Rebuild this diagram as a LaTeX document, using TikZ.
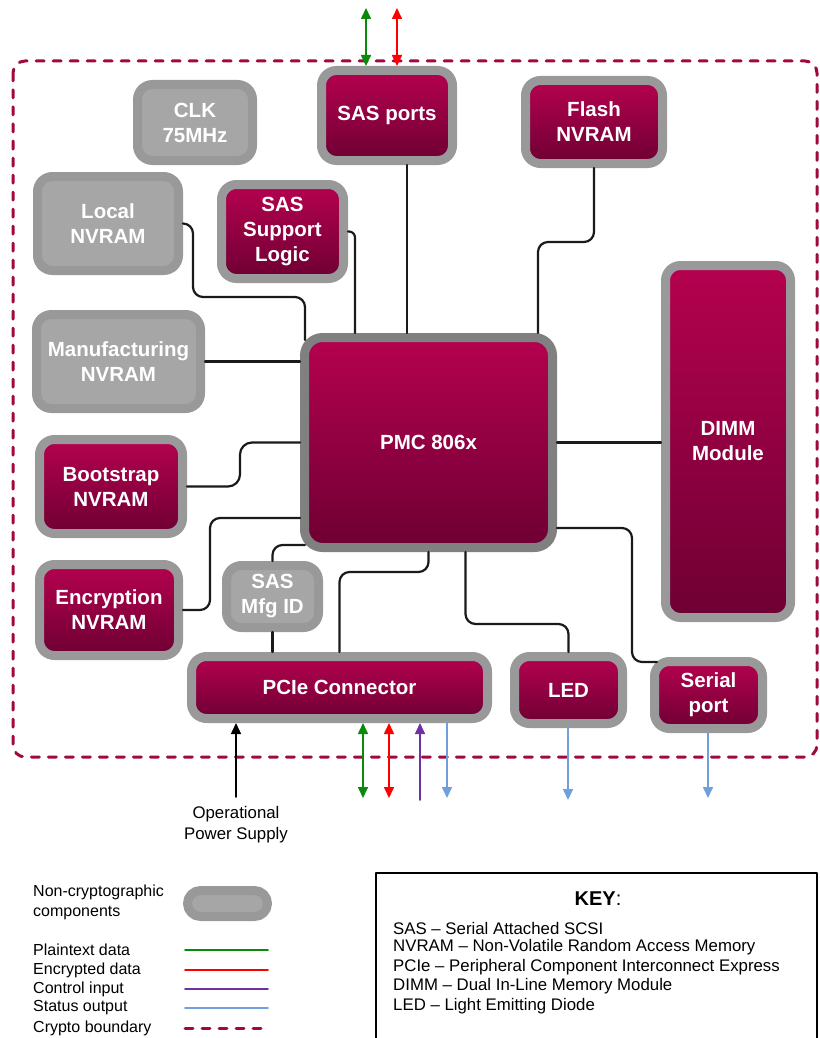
\documentclass[tikz,border=0pt]{standalone}
\usepackage{fontspec}
\setmainfont{Liberation Sans}
\usetikzlibrary{arrows.meta,calc,positioning}
\definecolor{pmcCrimson}{HTML}{B5014F}
\definecolor{pmcCrimsonDark}{HTML}{6E0033}
\definecolor{pmcBoundary}{HTML}{A0093F}
\definecolor{pmcRim}{HTML}{999999}
\definecolor{pmcRimDark}{HTML}{808080}
\definecolor{pmcFog}{HTML}{A6A6A6}
\definecolor{pmcGreen}{HTML}{0A8A0A}
\definecolor{pmcRed}{HTML}{FF0000}
\definecolor{pmcPurple}{HTML}{7030A0}
\definecolor{pmcBlue}{HTML}{70A0DC}
\definecolor{pmcWire}{HTML}{1A1A1A}

\begin{document}
\begin{tikzpicture}[x=1pt,y=-1pt,>=Latex,line cap=round,line join=round]
\useasboundingbox (0,0) rectangle (819,1038);
\path[fill=white] (0,0) rectangle (819,1038);
\tikzset{boxbase/.style={line width=9pt,rounded corners=15pt,text=white,font=\fontsize{20.5}{25}\selectfont\bfseries,align=center,inner sep=0pt},crypto/.style={boxbase,draw=pmcRim,top color=pmcCrimson,bottom color=pmcCrimsonDark},noncrypto/.style={boxbase,draw=pmcRim,fill=pmcFog},link/.style={draw=pmcWire,line width=2.2pt,rounded corners=10pt},flow/.style={line width=1.6pt,>={Triangle[length=11pt,width=10pt]}},boundary/.style={draw=pmcBoundary,line width=3pt,dash pattern=on 8pt off 9pt},legendtext/.style={font=\fontsize{16}{19.3}\selectfont,inner sep=0pt,align=left},keytext/.style={font=\fontsize{16.8}{19.4}\selectfont,inner sep=0pt,anchor=west}}
\draw[boundary,rounded corners=12pt] (13,61) rectangle (817,757);
\node[crypto,minimum width=131pt,minimum height=90pt] (sasports) at (387,115.5) {SAS ports};
\node[noncrypto,minimum width=115pt,minimum height=76pt] (clk) at (195,122.5) {CLK\\75MHz};
\node[crypto,minimum width=137pt,minimum height=83pt] (flash) at (594,122) {Flash\\NVRAM};
\node[noncrypto,minimum width=141pt,minimum height=94pt] (localnv) at (108,223.5) {Local\\NVRAM};
\node[crypto,minimum width=122pt,minimum height=94pt] (sassup) at (282.5,231.5) {SAS\\Support\\Logic};
\node[noncrypto,minimum width=164pt,minimum height=94pt] (mfgnv) at (118.5,361.5) {Manufacturing\\NVRAM};
\node[crypto,minimum width=143pt,minimum height=94pt] (bootnv) at (111,486.5) {Bootstrap\\NVRAM};
\node[crypto,minimum width=139pt,minimum height=91pt] (encnv) at (109,610) {Encryption\\NVRAM};
\node[noncrypto,minimum width=92pt,minimum height=62pt] (sasmfg) at (272.5,596.5) {SAS\\Mfg ID};
\node[crypto,draw=pmcRimDark,minimum width=248pt,minimum height=210pt,rounded corners=18pt] (pmc) at (428.5,442.5) {PMC 806x};
\node[crypto,minimum width=125pt,minimum height=352pt] (dimm) at (728,441.5) {DIMM\\Module};
\node[crypto,minimum width=296pt,minimum height=62pt] (pcie) at (339.5,687.5) {PCIe Connector};
\node[crypto,minimum width=108pt,minimum height=67pt] (led) at (568.5,690) {LED};
\node[crypto,minimum width=108pt,minimum height=67pt] (serial) at (708.5,695) {Serial\\port};
\draw[link] ([xshift=20pt]sasports.south) -- ([xshift=20pt]sasports.south |- pmc.north);
\draw[link,rounded corners=6pt] (sassup.east) -| ([xshift=-73.5pt]pmc.north);
\draw[link] (localnv.east) -- ++(10,0) -- ++(0,73.5) -| ([xshift=5pt,yshift=-7pt]pmc.north west);
\draw[link] (flash.south) -- ++(0,74) -| ([xshift=109.5pt]pmc.north);
\draw[link] (mfgnv.east) -- (mfgnv.east -| pmc.west);
\draw[link,rounded corners=12pt] (bootnv.east) -- ++(53,0) |- (pmc.west);
\draw[link] (encnv.east) -- ++(27,0) |- ([yshift=-75.5pt]pmc.west);
\draw[link] (sasmfg.north) |- ([xshift=5pt,yshift=7pt]pmc.south west);
\draw[link] (pmc.south) -- ++(0,20) -| (pcie.north);
\draw[link] (sasmfg.south) -- (sasmfg.south |- pcie.north);
\draw[link] ([xshift=37pt]pmc.south) -- ++(0,72) -| (led.north);
\draw[link] ([yshift=-85.5pt]pmc.east) -- ++(75,0) |- ([xshift=7pt,yshift=-5pt]serial.north west);
\draw[link] (pmc.east) -- (pmc.east -| dimm.west);
\coordinate (sasG) at (366,8);
\coordinate (sasR) at (397,8);
\draw[flow,pmcGreen,<->] (sasG) -- (sasG |- sasports.north);
\draw[flow,pmcRed,<->] (sasR) -- (sasR |- sasports.north);
\coordinate (psuTail) at (236,797);
\coordinate (pcieG) at (363,798);
\coordinate (pcieR) at (389,798);
\coordinate (pcieP) at (420,800);
\coordinate (pcieB) at (447,798);
\coordinate (ledB) at (568,800);
\coordinate (serialB) at (708,798);
\draw[flow,black,->] (psuTail) -- (psuTail |- pcie.south);
\draw[flow,pmcGreen,<->] (pcieG |- pcie.south) -- (pcieG);
\draw[flow,pmcRed,<->] (pcieR |- pcie.south) -- (pcieR);
\draw[flow,pmcPurple,->] (pcieP) -- (pcieP |- pcie.south);
\draw[flow,pmcBlue,->] (pcieB |- pcie.south) -- (pcieB);
\draw[flow,pmcBlue,->] (ledB |- led.south) -- (ledB);
\draw[flow,pmcBlue,->] (serialB |- serial.south) -- (serialB);
\node[legendtext,align=center,font=\fontsize{16.8}{21}\selectfont] (psu) at (236,825) {Operational\\Power Supply};
\node[legendtext,anchor=west] (lgNon) at (33,902.5) {Non-cryptographic\\components};
\node[noncrypto,minimum width=80pt,minimum height=26pt,rounded corners=13pt] (lgPill) at (227.5,903.5) {};
\node[legendtext,anchor=west] (lgPlain) at (33,950) {Plaintext data};
\node[legendtext,anchor=west] (lgEnc) at (33,970) {Encrypted data};
\node[legendtext,anchor=west] (lgCtl) at (33,989) {Control input};
\node[legendtext,anchor=west] (lgStat) at (33,1008) {Status output};
\node[legendtext,anchor=west] (lgBound) at (33,1028) {Crypto boundary};
\draw[line width=1.6pt,pmcGreen] (185,950) -- (268,950);
\draw[line width=1.6pt,pmcRed] (185,970) -- (268,970);
\draw[line width=1.6pt,pmcPurple] (185,989) -- (268,989);
\draw[line width=1.6pt,pmcBlue] (185,1008) -- (268,1008);
\draw[boundary] (185,1028) -- (264,1028);
\draw[line width=1.3pt] (376,873) rectangle (817,1050);
\node[font=\fontsize{20}{24}\selectfont] (keytitle) at (598,899) {\textbf{KEY}:};
\node[keytext] (keySAS) at (393,928) {SAS – Serial Attached SCSI};
\node[keytext] (keyNV) at (393,947.5) {NVRAM – Non-Volatile Random Access Memory};
\node[keytext] (keyPCIe) at (393,967) {PCIe – Peripheral Component Interconnect Express};
\node[keytext] (keyDIMM) at (393,986.5) {DIMM – Dual In-Line Memory Module};
\node[keytext] (keyLED) at (393,1006) {LED – Light Emitting Diode};
\end{tikzpicture}
\end{document}
